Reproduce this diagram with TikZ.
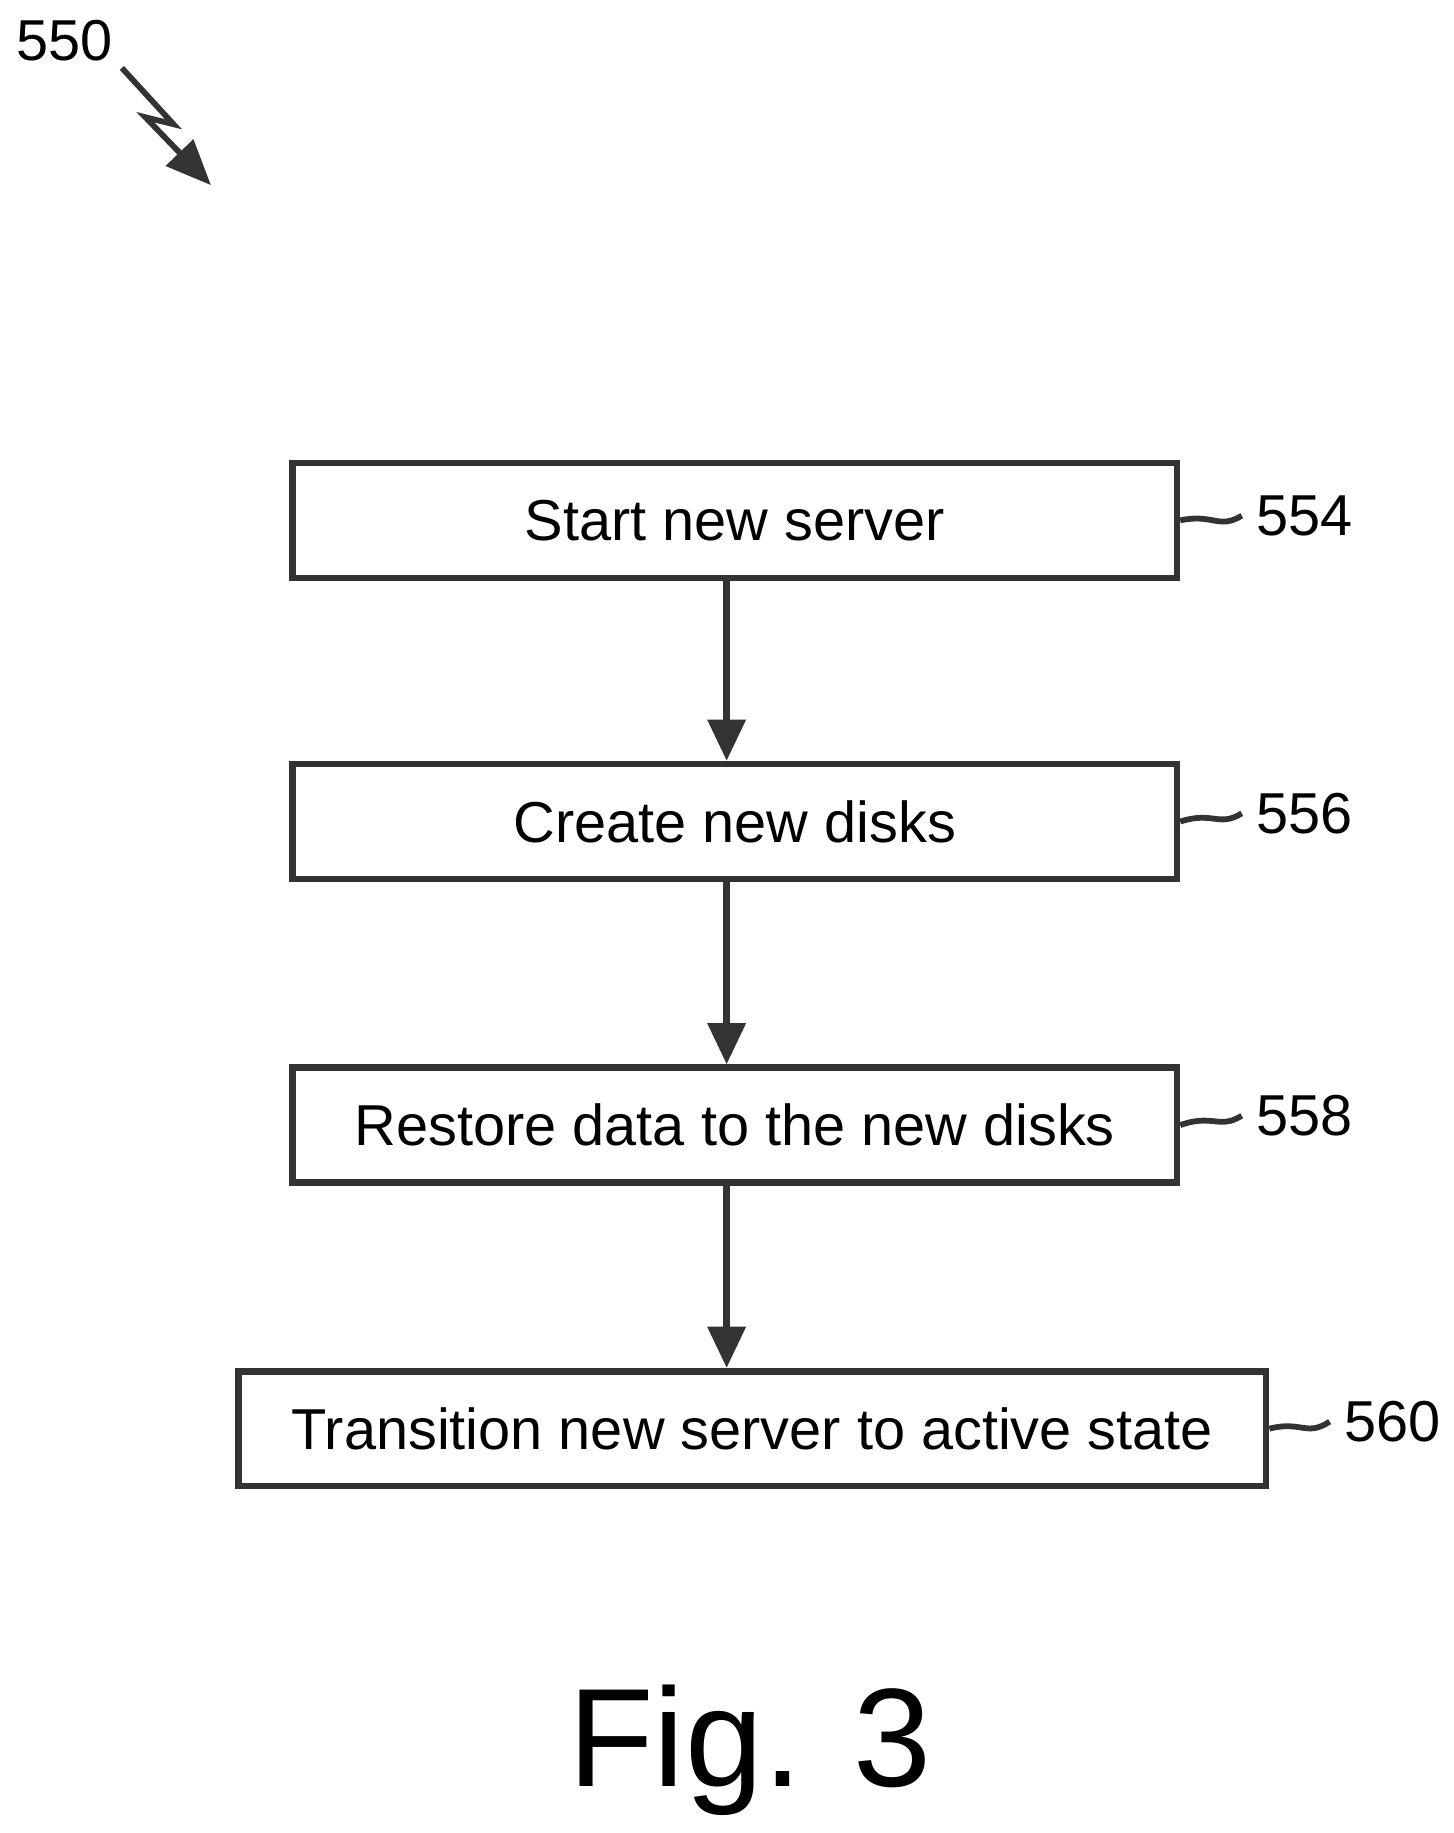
\documentclass[tikz,border=0pt]{standalone}
\usepackage{fontspec}
\setmainfont{Liberation Sans}
\usetikzlibrary{arrows.meta,positioning}
\begin{document}
\begin{tikzpicture}[x=0.01cm,y=-0.01cm,
    stage/.style={draw=black!80,line width=1.6pt,minimum height=0.98cm,font=\fontsize{14}{16}\selectfont},
    flow/.style={draw=black!80,line width=1.6pt,-{Triangle[length=10pt,width=9pt]}},
    ref/.style={font=\fontsize{14}{16}\selectfont},
    lead/.style={draw=black!80,line width=1.4pt}
  ]
  \useasboundingbox (0,0) rectangle (1240,1564);

  % steps
  \node[stage,minimum width=7.54cm] (start) at (627,444) {Start new server};
  \node[stage,minimum width=7.54cm] (disks) at (627,701) {Create new disks};
  \node[stage,minimum width=7.54cm] (restore) at (627,960) {Restore data to the new disks};
  \node[stage,minimum width=8.76cm] (active) at (642,1219) {Transition new server to active state};

  \draw[flow] (start.south -| 620,0) -- (disks.north -| 620,0);
  \draw[flow] (disks.south -| 620,0) -- (restore.north -| 620,0);
  \draw[flow] (restore.south -| 620,0) -- (active.north -| 620,0);

  % reference numerals
  \node[ref] (n554) at (1113,440) {554};
  \node[ref] (n556) at (1113,694) {556};
  \node[ref] (n558) at (1113,952) {558};
  \node[ref] (n560) at (1188,1213) {560};
  \draw[lead] (start.east) .. controls (1035,438) and (1040,452) .. (n554.west);
  \draw[lead] (disks.east) .. controls (1035,692) and (1040,706) .. (n556.west);
  \draw[lead] (restore.east) .. controls (1035,950) and (1040,964) .. (n558.west);
  \draw[lead] (active.east) .. controls (1110,1212) and (1115,1226) .. (n560.west);

  % figure numeral
  \node[ref] (n550) at (55,35) {550};
  \coordinate (z1) at (104,58);
  \coordinate (z2) at (148,106);
  \coordinate (z3) at (124,100);
  \coordinate (z4) at (180,158);
  \draw[lead,-{Triangle[length=11pt,width=9pt]}] (z1) -- (z2) -- (z3) -- (z4);

  \node[font=\fontsize{34}{38}\selectfont] (fig) at (640,1493) {Fig. 3};
\end{tikzpicture}
\end{document}
